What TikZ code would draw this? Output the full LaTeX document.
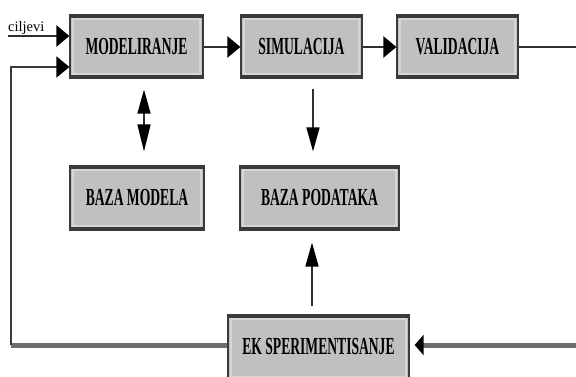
\documentclass[tikz,border=0pt]{standalone}
\usepackage{fontspec}
\setmainfont{Liberation Serif}
\usepackage{graphicx}
\usetikzlibrary{arrows.meta}
\definecolor{boxfill}{HTML}{C0C0C0}
\definecolor{boxedge}{HTML}{3A3A3A}
\definecolor{boxlight}{HTML}{D6D6D6}
\definecolor{darkline}{HTML}{303030}
\definecolor{greyline}{HTML}{6E6E6E}
\newcommand{\boxtext}[1]{\scalebox{0.555}[1]{\fontsize{24.5}{24.5}\selectfont\bfseries #1}}
\tikzset{
  blockbox/.style={draw=boxedge, line width=1.2pt, fill=boxfill, minimum width=#1,
    minimum height=63pt, inner sep=0pt, font=\fontsize{20}{20}\selectfont,
    path picture={
      \draw[boxlight, line width=1.2pt]
        ([shift={(3pt,4pt)}]path picture bounding box.south west) rectangle
        ([shift={(-3pt,-4pt)}]path picture bounding box.north east);
      \draw[boxedge, line width=5.5pt] (path picture bounding box.north west) -- (path picture bounding box.north east);
      \draw[boxedge, line width=5.5pt] (path picture bounding box.south west) -- (path picture bounding box.south east);
    }},
  hconn/.style={draw=darkline, line width=2.6pt, -{Triangle[length=13pt,width=21pt,color=black]}},
  vconn/.style={draw=darkline, line width=1.5pt, -{Triangle[length=24pt,width=13pt,color=black]}},
  dblconn/.style={draw=darkline, line width=1.5pt, {Triangle[length=24pt,width=13pt,color=black]}-{Triangle[length=27pt,width=13pt,color=black]}},
  thinline/.style={draw=boxedge, line width=1.8pt},
  greyconn/.style={draw=greyline, line width=5pt},
}
\begin{document}
\begin{tikzpicture}[x=1pt,y=-1pt]
\useasboundingbox (0,0) rectangle (576,376);
\clip (0,0) rectangle (576,376);

% blocks
\node[blockbox=133pt] (mod) at (136.5,46.5) {\boxtext{MODELIRANJE}};
\node[blockbox=121pt] (sim) at (301.5,46.5) {\boxtext{SIMULACIJA}};
\node[blockbox=121pt] (val) at (457.5,46.5) {\boxtext{VALIDACIJA}};
\node[blockbox=134pt, minimum height=64pt] (bm) at (137,198) {\boxtext{BAZA MODELA}};
\node[blockbox=159pt, minimum height=64pt] (bp) at (319.5,198) {\boxtext{BAZA PODATAKA}};
\node[blockbox=181pt, minimum height=66pt] (eks) at (318.5,348) {\raisebox{4pt}{\boxtext{EK SPERIMENTISANJE}}};

% free ends
\coordinate (cilj) at (8,36);
\coordinate (fbtop) at (11,67);
\coordinate (fbbot) at (11,345);
\coordinate (valout) at (576,47);
\coordinate (eksin) at (576,345);

\node[anchor=base west, inner sep=0pt, font=\fontsize{14.5}{14.5}\selectfont] (ciljtxt) at (8,31) {ciljevi};

% top row connectors
\draw[hconn] (cilj) -- (mod.west |- cilj);
\draw[hconn] (mod.east |- 0,47) -- (sim.west |- 0,47);
\draw[hconn] (sim.east |- 0,47) -- (val.west |- 0,47);
\draw[draw=darkline, line width=2.6pt] (val.east |- valout) -- (valout);

% feedback loop
\draw[greyconn] (eks.west |- fbbot) -- (fbbot);
\draw[thinline] (fbbot) -- (fbtop) -- (61,67);
\draw[hconn, line width=1.8pt, draw=boxedge] (58,67) -- (mod.west |- fbtop);
\draw[greyconn, -{Triangle[length=9pt,width=20pt,color=black]}, shorten >=5pt] (eksin) -- (eks.east |- eksin);

% vertical connectors
\draw[dblconn] ([shift={(7.5,11)}]mod.south) -- ([shift={(7,-14)}]bm.north);
\draw[vconn] ([shift={(11.5,10)}]sim.south) -- ([shift={(-6.5,-14)}]bp.north);
\draw[vconn] ([shift={(-6.5,-8)}]eks.north) -- ([shift={(-7.5,12)}]bp.south);
\end{tikzpicture}
\end{document}
